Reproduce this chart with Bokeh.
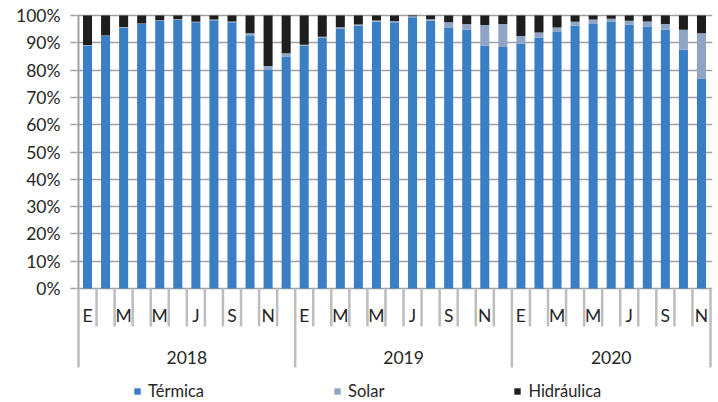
from bokeh.plotting import figure
from bokeh.models import (ColumnDataSource, Range1d, FixedTicker, PrintfTickFormatter,
                          Legend, LegendItem)
from bokeh.core.properties import value
from bokeh.embed import file_html
from bokeh.resources import INLINE

# ---- data -------------------------------------------------------------
years = ["2018", "2019", "2020"]
months_per_year = [12, 12, 11]
month_letters = ["E", "F", "M", "A", "M", "J", "J", "A", "S", "O", "N", "D"]
shown_month_index = [0, 2, 4, 6, 8, 10]          # E, M, M, J, S, N

termica = [89.0, 92.5, 95.6, 96.9, 98.1, 98.4, 97.5, 98.3, 97.5, 92.5, 80.0, 85.0,
           89.0, 91.9, 95.2, 96.2, 97.7, 97.5, 99.4, 98.1, 95.6, 94.8, 89.0, 88.5,
           89.7, 91.9, 94.0, 96.2, 96.9, 97.8, 96.6, 96.0, 94.8, 87.5, 76.9]
solar = [0.2, 0.2, 0.2, 0.2, 0.2, 0.2, 0.2, 0.2, 0.3, 1.0, 1.5, 1.2,
         0.3, 0.3, 0.5, 0.5, 0.5, 0.5, 0.3, 0.5, 1.9, 2.1, 7.5, 8.4,
         2.8, 1.9, 1.6, 1.5, 1.6, 1.0, 1.5, 1.8, 2.1, 7.3, 16.6]
hidraulica = [10.8, 7.3, 4.2, 2.9, 1.7, 1.4, 2.3, 1.5, 2.2, 6.5, 18.5, 13.8,
              10.7, 7.8, 4.3, 3.3, 1.8, 2.0, 0.3, 1.4, 2.5, 3.1, 3.5, 3.1,
              7.5, 6.2, 4.4, 2.3, 1.5, 1.2, 1.9, 2.2, 3.1, 5.2, 6.5]

series = ["Térmica", "Solar", "Hidráulica"]
colors = ["#3a7ec4", "#8fa5c6", "#1e1e1e"]
y_ticks = [0, 10, 20, 30, 40, 50, 60, 70, 80, 90, 100]

# ---- derived positions ---------------------------------------------------
n = sum(months_per_year)
xs = [i + 0.5 for i in range(n)]
src = ColumnDataSource(dict(x=xs, termica=termica, solar=solar, hidraulica=hidraulica))

starts = []
s = 0
for m in months_per_year:
    starts.append(s)
    s += m
ends = [st + m for st, m in zip(starts, months_per_year)]

# ---- figure -------------------------------------------------------------
W, H = 718, 402
px_per_unit = 2.73
y_top = 100 + 15 / px_per_unit
y_bot = -(H - 288) / px_per_unit

p = figure(width=W, height=H, output_backend="svg", toolbar_location=None,
           x_range=Range1d(-0.11, n + 0.11), y_range=Range1d(y_bot, y_top),
           x_axis_location=None, min_border_left=76, min_border_right=6,
           min_border_top=0, min_border_bottom=0)
p.outline_line_color = None
p.xgrid.visible = False
p.background_fill_color = "white"

p.yaxis.ticker = FixedTicker(ticks=y_ticks)
p.yaxis.formatter = PrintfTickFormatter(format="%d%%")
p.yaxis.axis_line_color = None
p.yaxis.major_tick_in = 0
p.yaxis.major_tick_out = 6
p.yaxis.major_tick_line_color = "#a0a0a0"
p.yaxis.major_tick_line_width = 1.5
p.yaxis.minor_tick_line_color = None
p.yaxis.major_label_standoff = 10
p.yaxis.major_label_text_font = "Lato"
p.yaxis.major_label_text_font_size = "17.5px"
p.yaxis.major_label_text_color = "#262626"

p.ygrid.ticker = FixedTicker(ticks=y_ticks)
p.ygrid.grid_line_color = "#a0a0a0"
p.ygrid.grid_line_width = 1.5

# category separators
minor_x, major_x = [], []
for st, en in zip(starts, ends):
    major_x.append(st)
    for k in range(st + 1, en):
        minor_x.append(k)
major_x.append(ends[-1])

y_minor_end = -13.9
y_major_end = -28.9
p.segment(x0=minor_x, y0=[0] * len(minor_x), x1=minor_x, y1=[y_minor_end] * len(minor_x),
          line_color="#bdbdbd", line_width=2.5)
p.segment(x0=major_x, y0=[0] * len(major_x), x1=major_x, y1=[y_major_end] * len(major_x),
          line_color="#bdbdbd", line_width=2.5)
# left axis line
p.segment(x0=[0], y0=[100], x1=[0], y1=[0], line_color="#a0a0a0", line_width=2)

renderers = p.vbar_stack(["termica", "solar", "hidraulica"], x="x", width=0.5,
                         color=colors, source=src, line_color=None)

# month labels
lab_x, lab_t = [], []
for st, m in zip(starts, months_per_year):
    for k in shown_month_index:
        if k < m:
            lab_x.append(st + k + 0.5)
            lab_t.append(month_letters[k])
p.text(x=lab_x, y=[-9.9] * len(lab_x), text=lab_t, text_align="center",
       text_baseline="middle", text_font=value("Lato"), text_font_size="17.5px",
       text_color="#262626")

# year labels
yr_x = [(st + en) / 2 for st, en in zip(starts, ends)]
p.text(x=yr_x, y=[-25.3] * len(yr_x), text=years, text_align="center",
       text_baseline="middle", text_font=value("Lato"), text_font_size="17.5px",
       text_color="#262626")

legend = Legend(items=[LegendItem(label=series[i], renderers=[renderers[i]]) for i in range(3)],
                orientation="horizontal", location=(57, 1), glyph_width=8, glyph_height=8,
                label_standoff=7, spacing=129, padding=0, margin=0,
                border_line_color=None, background_fill_alpha=0,
                label_text_font="Lato", label_text_font_size="16.5px",
                label_text_color="#262626", label_height=16)
p.add_layout(legend, "center")

open("out.html", "w").write(file_html(p, INLINE))
